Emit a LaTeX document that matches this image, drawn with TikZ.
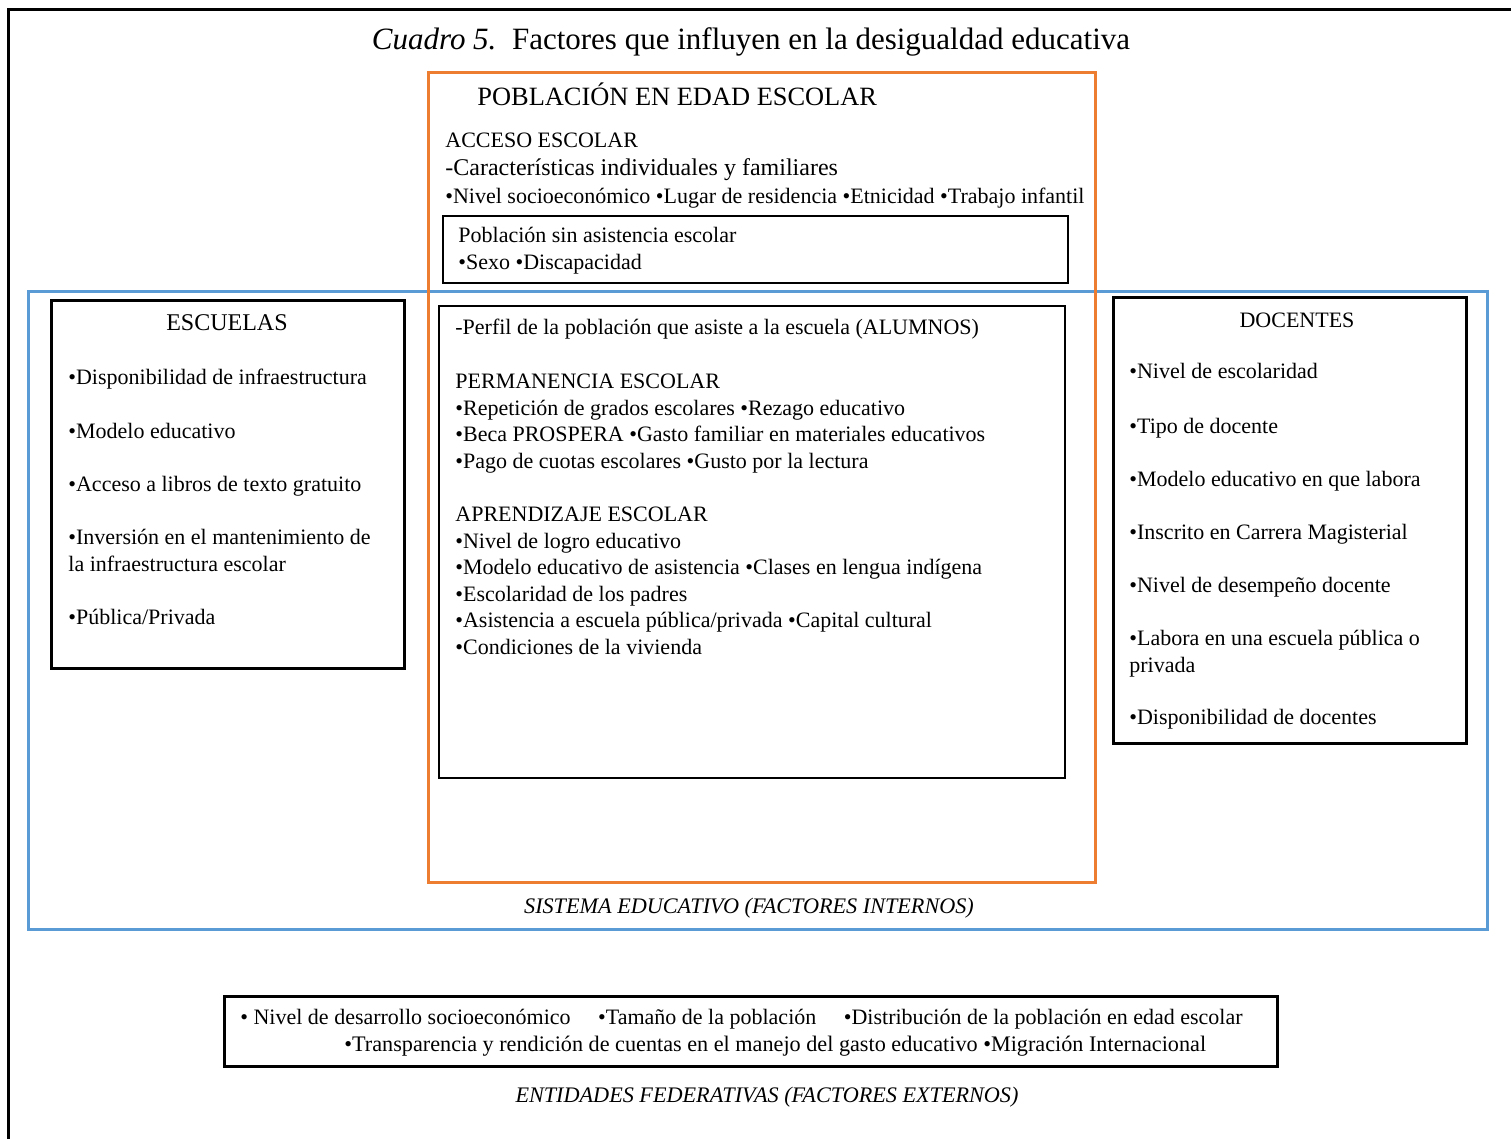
\documentclass[tikz,border=0pt]{standalone}
\usepackage{fontspec}
\setmainfont{Liberation Serif}
\definecolor{boxorange}{RGB}{237,125,49}
\definecolor{boxblue}{RGB}{91,155,213}
\tikzset{
	heavybox/.style={draw, line width=1.5pt},
	thinbox/.style={draw, line width=0.6pt},
	zonebox/.style={draw, line width=1.5pt},
	entry/.style={anchor=base west, inner sep=0pt, align=left, font=\fontsize{11}{13.25}\selectfont},
	boxtitle/.style={anchor=base, inner sep=0pt, font=\fontsize{11}{13}\selectfont},
	zonelabel/.style={anchor=base, inner sep=0pt, font=\fontsize{11.1}{13}\selectfont\itshape}
}

\begin{document}
\begin{tikzpicture}[x=0.5pt, y=-0.5pt]
\useasboundingbox (0,0) rectangle (1511,1139);

% outer frame (cut off at the right and bottom)
\draw[line width=1.5pt] (8,1139) -- (8,10) -- (1511,10);

\node[anchor=base, inner sep=0pt, font=\fontsize{15.5}{17}\selectfont] (title) at (751,50)
	{\textit{Cuadro 5.}\enspace Factores que influyen en la desigualdad educativa};

% internal and population zones
\draw[zonebox, boxblue] (28,292) rectangle (1487,929);
\draw[zonebox, boxorange] (428,73) rectangle (1095,882);

\node[anchor=base west, inner sep=0pt, font=\fontsize{13.2}{15}\selectfont] (poblacion) at (477,106)
	{POBLACIÓN EN EDAD ESCOLAR};
\node[entry] (acceso) at (445,148) {ACCESO ESCOLAR};
\node[entry, font=\fontsize{12}{14}\selectfont] (caract) at (445,176)
	{-Características individuales y familiares};
\node[entry] (nivel) at (445,204)
	{•Nivel socioeconómico •Lugar de residencia •Etnicidad •Trabajo infantil};

\draw[thinbox, fill=white] (443,216) rectangle (1068,283);
\node[entry] (sinasist) at (458,243) {Población sin asistencia escolar};
\node[entry] (sexo) at (458,270) {•Sexo •Discapacidad};

% students (multi-line entries sit on their last baseline)
\draw[thinbox, fill=white] (439,306) rectangle (1065,778);
\node[entry] (perfil) at (455,335) {-Perfil de la población que asiste a la escuela (ALUMNOS)};
\node[entry] (perm) at (455,468) {PERMANENCIA ESCOLAR\\
	•Repetición de grados escolares •Rezago educativo\\
	•Beca PROSPERA •Gasto familiar en materiales educativos\\
	•Pago de cuotas escolares •Gusto por la lectura};
\node[entry] (aprend) at (455,654) {APRENDIZAJE ESCOLAR\\
	•Nivel de logro educativo\\
	•Modelo educativo de asistencia •Clases en lengua indígena\\
	•Escolaridad de los padres\\
	•Asistencia a escuela pública/privada •Capital cultural\\
	•Condiciones de la vivienda};

% schools
\draw[heavybox, fill=white] (51,301) rectangle (404,668);
\node[boxtitle, font=\fontsize{12}{14}\selectfont] (escuelas) at (227,331) {ESCUELAS};
\node[entry] (esc1) at (68,385) {•Disponibilidad de infraestructura};
\node[entry] (esc2) at (68,438) {•Modelo educativo};
\node[entry] (esc3) at (68,491) {•Acceso a libros de texto gratuito};
\node[entry] (esc4) at (68,571) {•Inversión en el mantenimiento de\\la infraestructura escolar};
\node[entry] (esc5) at (68,624) {•Pública/Privada};

% teachers
\draw[heavybox, fill=white] (1113,298) rectangle (1466,743);
\node[boxtitle] (docentes) at (1297,328) {DOCENTES};
\node[entry] (doc1) at (1129,379) {•Nivel de escolaridad};
\node[entry] (doc2) at (1129,433) {•Tipo de docente};
\node[entry] (doc3) at (1129,486) {•Modelo educativo en que labora};
\node[entry] (doc4) at (1129,539) {•Inscrito en Carrera Magisterial};
\node[entry] (doc5) at (1129,592) {•Nivel de desempeño docente};
\node[entry] (doc6) at (1129,672) {•Labora en una escuela pública o\\privada};
\node[entry] (doc7) at (1129,724) {•Disponibilidad de docentes};

\node[zonelabel] (interno) at (749,913) {SISTEMA EDUCATIVO (FACTORES INTERNOS)};

% external factors
\draw[heavybox] (224,996) rectangle (1277,1066);
\node[entry] (ext1) at (240,1024)
	{• Nivel de desarrollo socioeconómico \quad •Tamaño de la población \quad •Distribución de la población en edad escolar};
\node[entry, font=\fontsize{11.1}{13.25}\selectfont] (ext2) at (344,1051)
	{•Transparencia y rendición de cuentas en el manejo del gasto educativo •Migración Internacional};

\node[zonelabel] (externo) at (767,1102) {ENTIDADES FEDERATIVAS (FACTORES EXTERNOS)};

\end{tikzpicture}
\end{document}
